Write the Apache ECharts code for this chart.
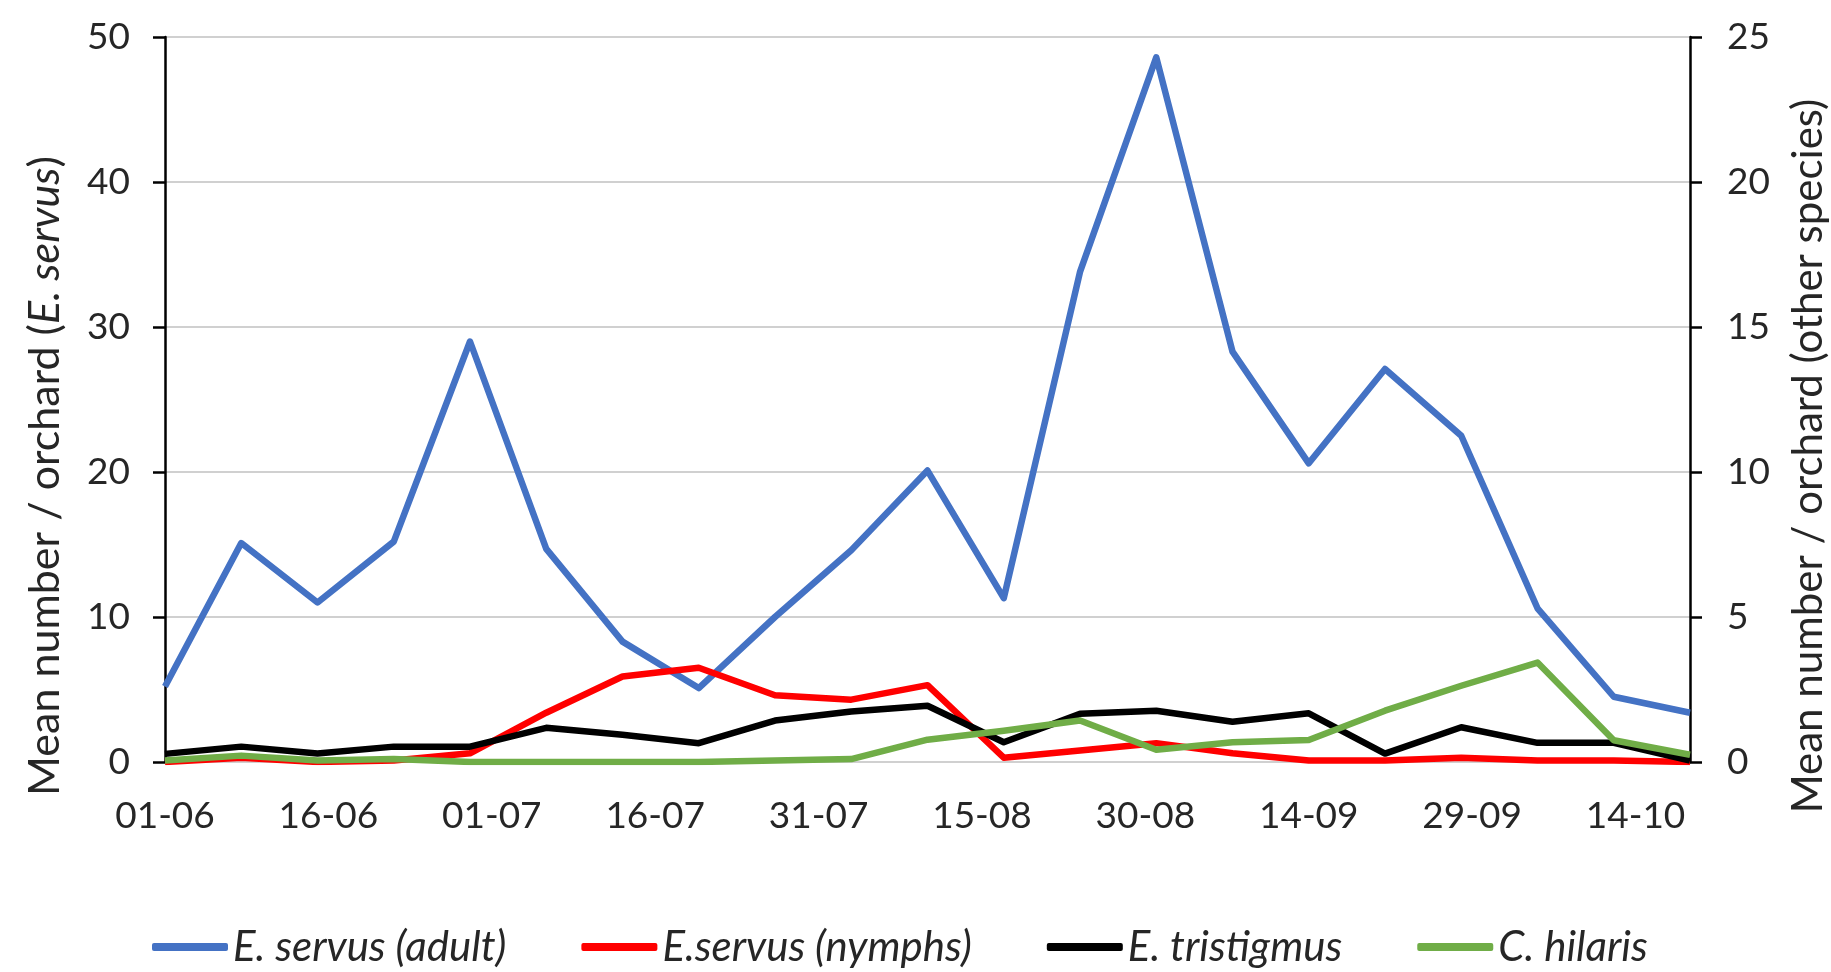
<!DOCTYPE html>
<html>
<head>
<meta charset="utf-8">
<script src="https://cdn.jsdelivr.net/npm/echarts@6/dist/echarts.min.js"></script>
<style>
html,body{margin:0;padding:0;background:#fff;}
#c{width:1831px;height:972px;}
</style>
</head>
<body>
<div id="c"></div>
<script>
// Sampling dates (DD-MM)
var dates = ['01-06','08-06','15-06','22-06','29-06','06-07','13-07','20-07','27-07','03-08','10-08',
             '17-08','24-08','31-08','07-09','14-09','21-09','28-09','05-10','12-10','19-10'];
// X tick labels (every 15 days from 01-06)
var tickLabels = ['01-06','16-06','01-07','16-07','31-07','15-08','30-08','14-09','29-09','14-10'];
// Left axis (E. servus)
var servusAdult  = [5.2,15.1,11.0,15.2,29.0,14.7,8.3,5.1,10.0,14.6,20.1,11.3,33.8,48.6,28.3,20.6,27.1,22.5,10.6,4.5,3.4];
var servusNymphs = [0,0.3,0,0.1,0.6,3.4,5.9,6.5,4.6,4.3,5.3,0.3,0.8,1.3,0.6,0.1,0.1,0.3,0.1,0.1,0];
// Right axis (other species)
var tristigmus = [0.28,0.53,0.29,0.53,0.53,1.18,0.94,0.65,1.43,1.74,1.94,0.68,1.66,1.77,1.39,1.68,0.29,1.2,0.66,0.66,0.05];
var hilaris    = [0.05,0.22,0.05,0.1,0,0,0,0,0.05,0.1,0.77,1.08,1.43,0.42,0.68,0.76,1.77,2.63,3.43,0.75,0.25];

var seriesNames = ['E. servus (adult)','E.servus (nymphs)','E. tristigmus','C. hilaris'];

function dayOffset(s){
  var p = s.split('-');
  var d = Date.UTC(2019, parseInt(p[1],10)-1, parseInt(p[0],10));
  var d0 = Date.UTC(2019, 5, 1);
  return Math.round((d - d0)/86400000);
}
var days = dates.map(dayOffset);
function pairs(vals){ return vals.map(function(v,i){ return [days[i], v]; }); }

var FONT = 'Lato';
var TXT = '#262626';
var FS = 37;      // tick labels
var FL = 42;      // legend

var chart = echarts.init(document.getElementById('c'), null, {renderer:'canvas'});
chart.setOption({
  animation:false,
  backgroundColor:'#ffffff',
  textStyle:{fontFamily:FONT},
  grid:{left:165, right:141, top:37, bottom:210, containLabel:false},
  legend:{
    data:seriesNames,
    left:152, top:926, padding:0,
    icon:'roundRect',
    itemWidth:76, itemHeight:8, itemGap:75,
    textStyle:{fontFamily:FONT, fontSize:FL, fontStyle:'italic', color:TXT}
  },
  xAxis:{
    type:'value', min:0, max:140, interval:15,
    axisLine:{show:false}, axisTick:{show:false}, splitLine:{show:false},
    axisLabel:{
      margin:36, fontFamily:FONT, fontSize:FS, color:TXT,
      showMaxLabel:false,
      formatter:function(v){ var i=v/15; return (i===Math.round(i) && tickLabels[i]) ? tickLabels[i] : ''; }
    }
  },
  yAxis:[
    {
      type:'value', min:0, max:50, interval:10, position:'left',
      axisLine:{show:true, lineStyle:{color:'#000', width:2.5}},
      axisTick:{show:true, length:12, inside:false, lineStyle:{color:'#000', width:2.5}},
      axisLabel:{margin:35, fontFamily:FONT, fontSize:FS, color:TXT},
      splitLine:{show:true, lineStyle:{color:'#d0d0d0', width:2}}
    },
    {
      type:'value', min:0, max:25, interval:5, position:'right',
      axisLine:{show:true, lineStyle:{color:'#000', width:2.5}},
      axisTick:{show:true, length:12, inside:false, lineStyle:{color:'#000', width:2.5}},
      axisLabel:{margin:37, fontFamily:FONT, fontSize:FS, color:TXT},
      splitLine:{show:false}
    }
  ],
  graphic:[
    {
      type:'text', x:45, y:476, rotation:Math.PI/2,
      style:{
        text:'{n|Mean number / orchard (}{i|E. servus}{n|)}',
        align:'center', verticalAlign:'middle',
        rich:{
          n:{fontFamily:FONT, fontSize:43, fill:TXT, fontStyle:'normal'},
          i:{fontFamily:FONT, fontSize:43, fill:TXT, fontStyle:'italic'}
        }
      }
    },
    {
      type:'text', x:1808, y:456, rotation:Math.PI/2,
      style:{
        text:'Mean number / orchard (other species)',
        align:'center', verticalAlign:'middle',
        fontFamily:FONT, fontSize:42, fill:TXT
      }
    }
  ],
  series:[
    {name:seriesNames[0], type:'line', yAxisIndex:0, data:pairs(servusAdult), symbol:'none',
     itemStyle:{color:'#4472C4'}, lineStyle:{color:'#4472C4', width:6.5, join:'round'}},
    {name:seriesNames[1], type:'line', yAxisIndex:0, data:pairs(servusNymphs), symbol:'none',
     itemStyle:{color:'#FF0000'}, lineStyle:{color:'#FF0000', width:6.5, join:'round'}},
    {name:seriesNames[2], type:'line', yAxisIndex:1, data:pairs(tristigmus), symbol:'none',
     itemStyle:{color:'#000000'}, lineStyle:{color:'#000000', width:6.5, join:'round'}},
    {name:seriesNames[3], type:'line', yAxisIndex:1, data:pairs(hilaris), symbol:'none',
     itemStyle:{color:'#70AD47'}, lineStyle:{color:'#70AD47', width:6.5, join:'round'}}
  ]
});
</script>
</body>
</html>
